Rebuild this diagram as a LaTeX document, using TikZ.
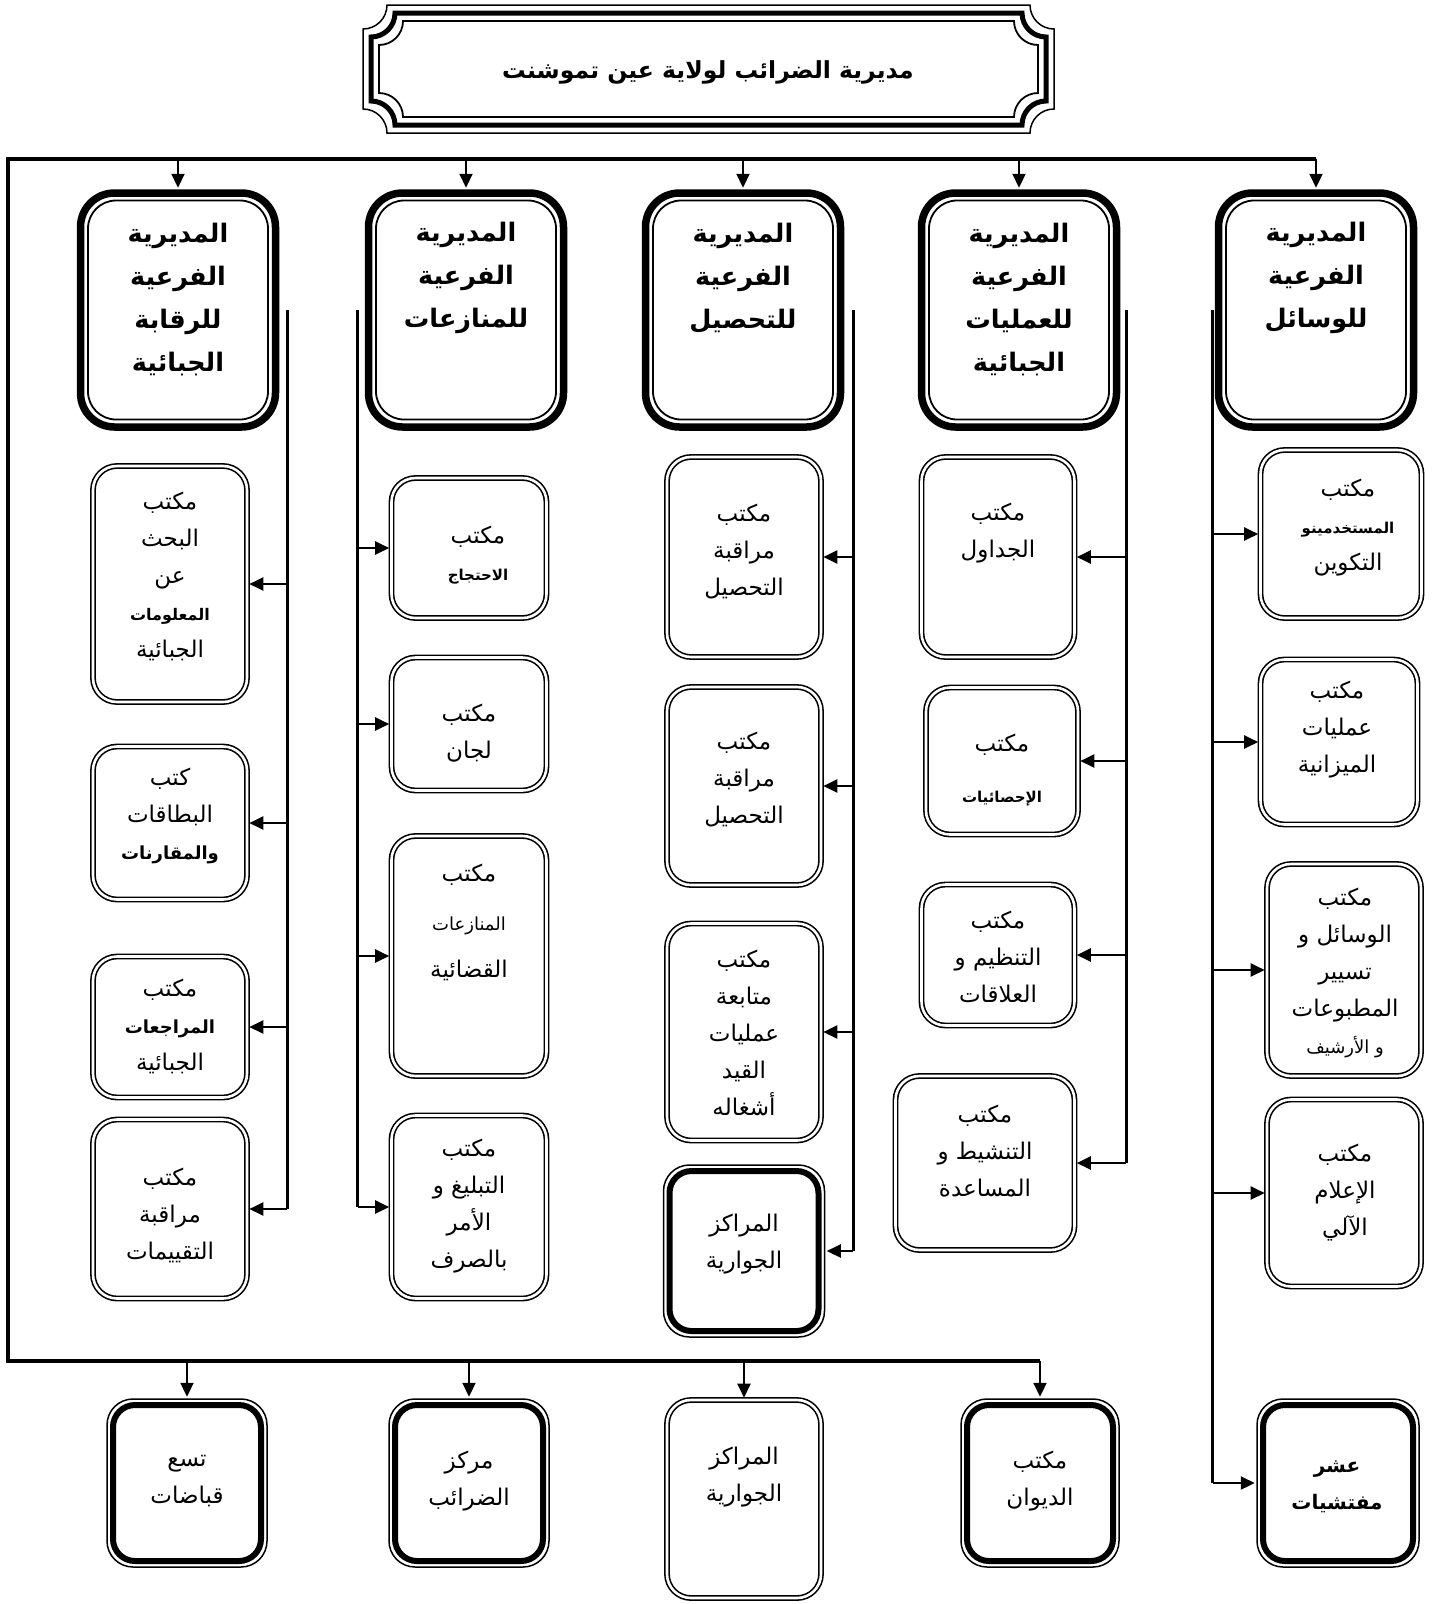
\documentclass[tikz,border=0pt]{standalone}
\usepackage{fontspec}
\newfontfamily\arabicfont[Script=Arabic]{DejaVu Sans}
\TeXXeTstate=1
\usetikzlibrary{arrows.meta,positioning}
\newcommand\rl[1]{\beginR#1\endR}
\newcommand\bsm[2][15]{{\bfseries\fontsize{#1}{#1}\selectfont\rl{#2}}}
\tikzset{
  bus/.style={line width=4pt},
  trunk/.style={line width=3pt},
  arr/.style={line width=2.2pt, shorten >=1.5pt, -{Triangle[length=14pt,width=13pt]}},
  head/.style={draw, line width=7.5pt, rounded corners=34pt,
    minimum width=195pt, minimum height=234pt,
    path picture={\draw[line width=1.8pt, rounded corners=28pt]
      ([shift={(7.5pt,-7.5pt)}]path picture bounding box.north west) rectangle
      ([shift={(-7.5pt,7.5pt)}]path picture bounding box.south east);}},
  sub/.style={draw, double, line width=1.6pt, double distance=2.6pt, rounded corners=24pt},
  heavy/.style={draw, line width=1.5pt, rounded corners=26pt,
    path picture={\draw[line width=6pt, rounded corners=22pt]
      ([shift={(6pt,-6pt)}]path picture bounding box.north west) rectangle
      ([shift={(-6pt,6pt)}]path picture bounding box.south east);}},
  txt/.style={font=\arabicfont\fontsize{23}{37}\selectfont, align=center, inner sep=0pt},
  htxt/.style={font=\arabicfont\bfseries\fontsize{25.5}{43}\selectfont, align=center, inner sep=0pt},
}

\begin{document}
\begin{tikzpicture}[x=1pt,y=-1pt]
    \useasboundingbox (0,0) rectangle (1432,1604);

    % title frame
    \foreach \d/\w in {0/1.5,8/5,16/1.8} {
      \pgfmathsetmacro{\xa}{363+\d}
      \pgfmathsetmacro{\xb}{1054-\d}
      \pgfmathsetmacro{\ya}{5+\d}
      \pgfmathsetmacro{\yb}{133-\d}
      \def\r{24}
      \draw[line width=\w pt] (\xa+\r,\ya) -- (\xb-\r,\ya)
        arc[start angle=180,delta angle=-90,radius=\r] -- (\xb,\yb-\r)
        arc[start angle=270,delta angle=-90,radius=\r] -- (\xa+\r,\yb)
        arc[start angle=0,delta angle=-90,radius=\r] -- (\xa,\ya+\r)
        arc[start angle=90,delta angle=-90,radius=\r] -- cycle;
    }
    \node[font=\arabicfont\bfseries\fontsize{23.5}{34}\selectfont] (title) at (708,72)
      {\rl{مديرية الضرائب لولاية عين تموشنت}};

    % sub-directorates
    \foreach \n/\x in {h1/178,h2/466,h3/743,h4/1019,h5/1316}
      \node[head] (\n) at (\x,310) {};
    \node[htxt] (t1) at (178,300) {\rl{المديرية}\\\rl{الفرعية}\\\rl{للرقابة}\\\rl{الجبائية}};
    \node[htxt] (t2) at (466,278) {\rl{المديرية}\\\rl{الفرعية}\\\rl{للمنازعات}};
    \node[htxt] (t3) at (743,278) {\rl{المديرية}\\\rl{الفرعية}\\\rl{للتحصيل}};
    \node[htxt] (t4) at (1019,300) {\rl{المديرية}\\\rl{الفرعية}\\\rl{للعمليات}\\\rl{الجبائية}};
    \node[htxt] (t5) at (1316,278) {\rl{المديرية}\\\rl{الفرعية}\\\rl{للوسائل}};

    % column 1
    \node[sub, minimum width=154pt, minimum height=236pt] (r1a) at (170,584) {};
    \node[sub, minimum width=154pt, minimum height=153pt] (r1b) at (170,823) {};
    \node[sub, minimum width=154pt, minimum height=141pt] (r1c) at (170,1027) {};
    \node[sub, minimum width=154pt, minimum height=179pt] (r1d) at (170,1209) {};
    \node[txt] (u1a) at (170,576) {\rl{مكتب}\\\rl{البحث}\\\rl{عن}\\\bsm[16]{المعلومات}\\\rl{الجبائية}};
    \node[txt] (u1b) at (170,816) {\rl{كتب}\\\rl{البطاقات}\\\bsm[18]{والمقارنات}};
    \node[txt] (u1c) at (170,1026) {\rl{مكتب}\\\bsm[18]{المراجعات}\\\rl{الجبائية}};
    \node[txt] (u1d) at (170,1215) {\rl{مكتب}\\\rl{مراقبة}\\\rl{التقييمات}};

    % column 2
    \node[sub, minimum width=155pt, minimum height=140pt] (r2a) at (469,548) {};
    \node[sub, minimum width=155pt, minimum height=133pt] (r2b) at (469,724) {};
    \node[sub, minimum width=155pt, minimum height=240pt] (r2c) at (469,956) {};
    \node[sub, minimum width=155pt, minimum height=183pt] (r2d) at (469,1207) {};
    \node[txt] (u2a) at (478,555) {\rl{مكتب}\\\bsm[15]{الاحتجاج}};
    \node[txt] (u2b) at (469,733) {\rl{مكتب}\\\rl{لجان}};
    \node[txt] (u2c) at (469,922) {\rl{مكتب}\\[12pt]{\fontsize{18}{18}\selectfont\rl{المنازعات}}\\[10pt]\rl{القضائية}};
    \node[txt] (u2d) at (469,1206) {\rl{مكتب}\\\rl{التبليغ و}\\\rl{الأمر}\\\rl{بالصرف}};

    % column 3
    \node[sub, minimum width=154pt, minimum height=200pt] (r3a) at (744,557) {};
    \node[sub, minimum width=154pt, minimum height=198pt] (r3b) at (744,786) {};
    \node[sub, minimum width=154pt, minimum height=217pt] (r3c) at (744,1032) {};
    \node[heavy, minimum width=161pt, minimum height=172pt] (r3d) at (744,1251) {};
    \node[txt] (u3a) at (744,552) {\rl{مكتب}\\\rl{مراقبة}\\\rl{التحصيل}};
    \node[txt] (u3b) at (744,780) {\rl{مكتب}\\\rl{مراقبة}\\\rl{التحصيل}};
    \node[txt] (u3c) at (744,1033) {\rl{مكتب}\\\rl{متابعة}\\\rl{عمليات}\\\rl{القيد}\\\rl{أشغاله}};
    \node[txt] (u3d) at (744,1244) {\rl{المراكز}\\\rl{الجوارية}};

    % column 4
    \node[sub, minimum width=153pt, minimum height=200pt] (r4a) at (998,557) {};
    \node[sub, minimum width=152pt, minimum height=147pt] (r4b) at (1002,761) {};
    \node[sub, minimum width=153pt, minimum height=141pt] (r4c) at (998,955) {};
    \node[sub, minimum width=179pt, minimum height=174pt] (r4d) at (985,1163) {};
    \node[txt] (u4a) at (998,533) {\rl{مكتب}\\\rl{الجداول}};
    \node[txt] (u4b) at (1002,770) {\rl{مكتب}\\[14pt]\bsm[15]{الإحصائيات}};
    \node[txt] (u4c) at (998,957) {\rl{مكتب}\\\rl{التنظيم و}\\\rl{العلاقات}};
    \node[txt] (u4d) at (985,1151) {\rl{مكتب}\\\rl{التنشيط و}\\\rl{المساعدة}};

    % column 5
    \node[sub, minimum width=161pt, minimum height=168pt] (r5a) at (1341,534) {};
    \node[sub, minimum width=157pt, minimum height=165pt] (r5b) at (1339,742) {};
    \node[sub, minimum width=154pt, minimum height=212pt] (r5c) at (1344,970) {};
    \node[sub, minimum width=154pt, minimum height=187pt] (r5d) at (1344,1193) {};
    \node[heavy, minimum width=162pt, minimum height=168pt] (r5e) at (1338,1483) {};
    \node[txt] (u5a) at (1348,528) {\rl{مكتب}\\\bsm[15]{المستخدمينو}\\\rl{التكوين}};
    \node[txt] (u5b) at (1337,730) {\rl{مكتب}\\\rl{عمليات}\\\rl{الميزانية}};
    \node[txt] (u5c) at (1345,973) {\rl{مكتب}\\\rl{الوسائل و}\\\rl{تسيير}\\\rl{المطبوعات}\\{\fontsize{18}{18}\selectfont\rl{و الأرشيف}}};
    \node[txt] (u5d) at (1345,1193) {\rl{مكتب}\\\rl{الإعلام}\\\rl{الآلي}};
    \node[txt] (u5e) at (1337,1487) {\bsm[20]{عشر}\\\bsm[20]{مفتشيات}};

    % bottom row
    \node[heavy, minimum width=160pt, minimum height=168pt] (b1) at (187,1483) {};
    \node[heavy, minimum width=160pt, minimum height=168pt] (b2) at (469,1483) {};
    \node[sub, minimum width=154pt, minimum height=198pt] (b3) at (744,1499) {};
    \node[heavy, minimum width=158pt, minimum height=168pt] (b4) at (1040,1483) {};
    \node[txt] (v1) at (187,1481) {\rl{تسع}\\\rl{قباضات}};
    \node[txt] (v2) at (469,1481) {\rl{مركز}\\\rl{الضرائب}};
    \node[txt] (v3) at (744,1477) {\rl{المراكز}\\\rl{الجوارية}};
    \node[txt] (v4) at (1040,1481) {\rl{مكتب}\\\rl{الديوان}};

    % buses
    \coordinate (tl) at (8,159);
    \coordinate (bl) at (8,1361);
    \draw[bus] (h5.north |- tl) -- (tl) -- (bl) -- (b4.north |- bl);
    \foreach \h in {h1,h2,h3,h4,h5}
      \draw[arr] (\h.north |- tl) -- (\h.north);
    \foreach \b in {b1,b2,b3,b4}
      \draw[arr] (\b.north |- bl) -- (\b.north);

    % trunks
    \coordinate (k1) at ([xshift=8pt]h1.east);
    \coordinate (k2) at ([xshift=-7pt]h2.west);
    \coordinate (k3) at ([xshift=9pt]h3.east);
    \coordinate (k4) at ([xshift=6pt]h4.east);
    \coordinate (k5) at ([xshift=-2pt]h5.west);
    \draw[trunk] (k1) -- (k1 |- r1d.east);
    \draw[trunk] (k2) -- (k2 |- r2d.west);
    \draw[trunk] (k3) -- (k3 |- r3d.east);
    \draw[trunk] (k4) -- (k4 |- r4d.east);
    \draw[trunk] (k5) -- (k5 |- r5e.west);
    \foreach \b in {r1a,r1b,r1c,r1d}
      \draw[arr] (k1 |- \b.east) -- (\b.east);
    \foreach \b in {r2a,r2b,r2c,r2d}
      \draw[arr] (k2 |- \b.west) -- (\b.west);
    \foreach \b in {r3a,r3b,r3c,r3d}
      \draw[arr] (k3 |- \b.east) -- (\b.east);
    \foreach \b in {r4a,r4b,r4c,r4d}
      \draw[arr] (k4 |- \b.east) -- (\b.east);
    \foreach \b in {r5a,r5b,r5c,r5d,r5e}
      \draw[arr] (k5 |- \b.west) -- (\b.west);
\end{tikzpicture}
\end{document}
